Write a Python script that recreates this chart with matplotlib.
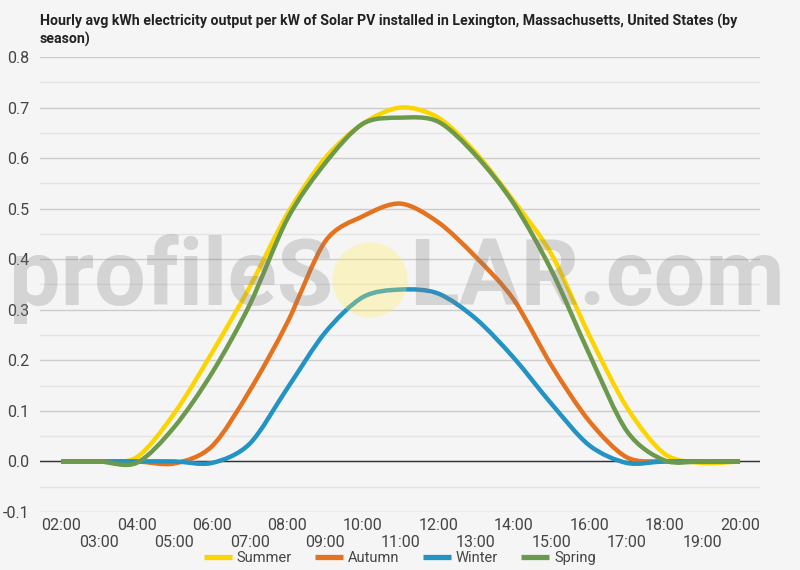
import numpy as np
import matplotlib
matplotlib.use("Agg")
import matplotlib.pyplot as plt
from matplotlib.path import Path
from matplotlib.patches import PathPatch, Ellipse
from matplotlib.lines import Line2D

hours = list(range(2, 21))
hour_labels = [f"{h:02d}:00" for h in hours]

summer = [0, 0, 0.008, 0.095, 0.215, 0.345, 0.49, 0.60, 0.668, 0.70,
          0.68, 0.61, 0.515, 0.41, 0.25, 0.107, 0.015, -0.003, 0]
autumn = [0, 0, 0, -0.004, 0.03, 0.14, 0.275, 0.435, 0.485, 0.51,
          0.473, 0.404, 0.32, 0.19, 0.08, 0.008, 0, 0, 0]
winter = [0, 0, 0, 0, -0.003, 0.035, 0.145, 0.255, 0.325, 0.34,
          0.332, 0.282, 0.205, 0.114, 0.032, -0.003, 0, 0, 0]
spring = [0, 0, -0.003, 0.068, 0.175, 0.31, 0.48, 0.59, 0.668, 0.68,
          0.672, 0.605, 0.51, 0.378, 0.213, 0.06, 0.002, 0, 0]

series = ["Summer", "Autumn", "Winter", "Spring"]
colors = ["#fcd500", "#e5721f", "#2393c4", "#6c9a4c"]

bg = "#f5f5f5"
plt.rcParams["font.family"] = ["Roboto", "DejaVu Sans"]


def smooth_path(x, y, tension=0.3):
    # cubic bezier through every point (like google's "function" curve)
    x = np.asarray(x, float)
    y = np.asarray(y, float)
    verts = [(x[0], y[0])]
    codes = [Path.MOVETO]
    n = len(x)
    for i in range(n - 1):
        p0 = (x[i - 1], y[i - 1]) if i > 0 else (x[i], y[i])
        p1 = (x[i], y[i])
        p2 = (x[i + 1], y[i + 1])
        p3 = (x[i + 2], y[i + 2]) if i + 2 < n else p2
        c1 = (p1[0] + (p2[0] - p0[0]) * tension / 2, p1[1] + (p2[1] - p0[1]) * tension / 2)
        c2 = (p2[0] - (p3[0] - p1[0]) * tension / 2, p2[1] - (p3[1] - p1[1]) * tension / 2)
        verts += [c1, c2, p2]
        codes += [Path.CURVE4] * 3
    return Path(verts, codes)


fig = plt.figure(figsize=(8, 5.7), dpi=100, facecolor=bg)
ax = fig.add_axes([0.05, 0.1018, 0.9, 0.7982])
ax.set_facecolor(bg)

ax.set_xlim(1.44, 20.53)
ax.set_ylim(-0.1, 0.8)

ax.set_yticks(np.arange(-0.1, 0.81, 0.1))
ax.set_yticks(np.arange(-0.05, 0.8, 0.1), minor=True)
ax.set_yticklabels([f"{v:.1f}" for v in np.arange(-0.1, 0.81, 0.1)])
ax.grid(True, which="major", axis="y", color="#cccccc", linewidth=1)
ax.grid(True, which="minor", axis="y", color="#e4e4e4", linewidth=1)
ax.axhline(0, color="#333333", linewidth=1, zorder=2)
ax.set_axisbelow(True)

ax.set_xticks(hours)
ax.set_xticklabels([lab if i % 2 == 0 else "\n" + lab for i, lab in enumerate(hour_labels)])
ax.tick_params(axis="both", which="both", length=0, labelsize=11.5, colors="#444444")
ax.tick_params(axis="x", pad=4)
ax.tick_params(axis="y", pad=8)
for spine in ax.spines.values():
    spine.set_visible(False)

for name, vals, c in zip(series, [summer, autumn, winter, spring], colors):
    patch = PathPatch(smooth_path(hours, vals), facecolor="none", edgecolor=c,
                      linewidth=3.2, capstyle="butt", joinstyle="round", zorder=3)
    ax.add_patch(patch)

# watermark, drawn over the plot with transparency
fig.text(0.417, 0.51, "profileS", fontsize=66, fontweight="bold", color="#808080",
         alpha=0.28, ha="right", va="center", zorder=5)
fig.text(0.512, 0.51, "LAR.com", fontsize=66, fontweight="bold", color="#808080",
         alpha=0.28, ha="left", va="center", zorder=5)
fig.patches.append(Ellipse((0.4625, 0.509), 0.094, 0.132, transform=fig.transFigure,
                           facecolor="#ffee55", edgecolor="none", alpha=0.3, zorder=5))

handles = [Line2D([], [], color=c, linewidth=3.8, solid_capstyle="butt") for c in colors]
fig.legend(handles, series, loc="center", bbox_to_anchor=(0.5, 0.021), ncol=4,
           frameon=False, fontsize=10.5, handlelength=1.9, handletextpad=0.35,
           columnspacing=1.6, labelcolor="#444444")

fig.text(0.05, 0.947, "Hourly avg kWh electricity output per kW of Solar PV installed in Lexington, Massachusetts, United States (by\nseason)",
         fontsize=10.2, fontweight="bold", color="#222222", ha="left", va="center",
         linespacing=1.25)

fig.savefig("out.png", dpi=100, facecolor=bg)
